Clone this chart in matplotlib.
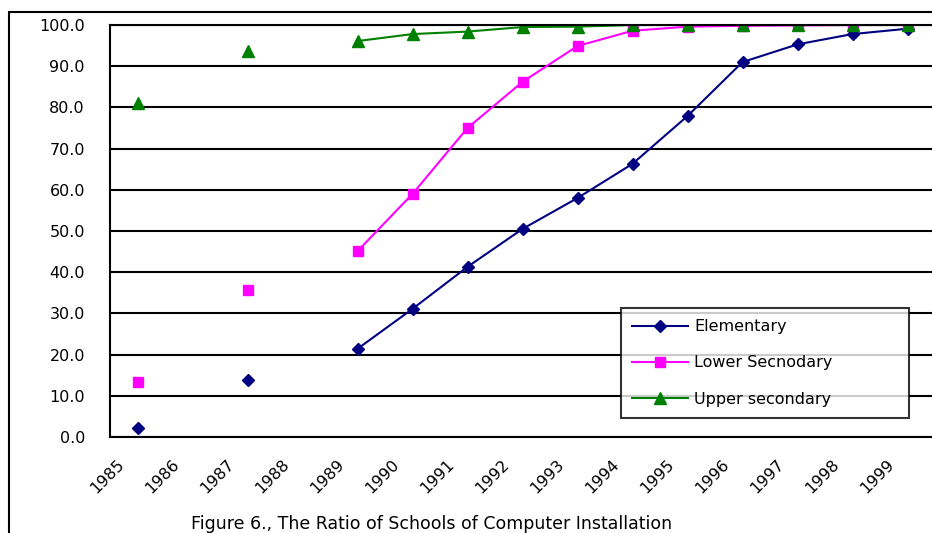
import numpy as np
import matplotlib
matplotlib.use("Agg")
import matplotlib.pyplot as plt
from matplotlib.patches import Rectangle
from matplotlib.transforms import ScaledTranslation

years = ["1985", "1986", "1987", "1988", "1989", "1990", "1991", "1992",
         "1993", "1994", "1995", "1996", "1997", "1998", "1999"]
nan = np.nan
elementary = [2.2, nan, 13.8, nan, 21.4, 31.1, 41.3, 50.5, 58.0, 66.3, 77.9, 91.0, 95.3, 97.8, 99.1]
lower_sec = [13.3, nan, 35.7, nan, 45.1, 59.0, 75.0, 86.2, 94.9, 98.6, 99.6, 99.8, 99.9, 100.0, 100.0]
upper_sec = [81.1, nan, 93.7, nan, 96.1, 97.8, 98.4, 99.5, 99.6, 100.0, 100.0, 100.0, 100.0, 100.0, 100.0]

plt.rcParams['font.family'] = ['DejaVu Sans']

fig = plt.figure(figsize=(9.32, 5.33), dpi=100)
ax = fig.add_axes([110 / 932, 1 - 437 / 533, 825 / 932, 412 / 533])

x = np.arange(len(years))
ax.plot(x, elementary, color='#000080', marker='D', markersize=6, lw=1.5, label='Elementary')
ax.plot(x, lower_sec, color='#FF00FF', marker='s', markersize=7, lw=1.5, label='Lower Secnodary')
ax.plot(x, upper_sec, color='#008000', marker='^', markersize=8.5, lw=1.5, label='Upper secondary')

ax.set_xlim(-0.5, len(years) - 0.5)
ax.set_ylim(0, 100)
ax.set_yticks(np.arange(0, 101, 10))
ax.set_yticklabels([f"{v:.1f}" for v in np.arange(0, 101, 10)], fontsize=11.5)
ax.yaxis.grid(True, color='black', lw=1.5)
ax.set_axisbelow(True)
ax.tick_params(axis='y', length=0, pad=18)

ax.set_xticks(x)
ax.set_xticklabels(years, fontsize=11.5, rotation=45, ha='right', va='top', rotation_mode='anchor')
ax.tick_params(axis='x', length=0, pad=14)
# shift rotated year labels left, like the original
offset = ScaledTranslation(-0.21, 0, fig.dpi_scale_trans)
for lab in ax.get_xticklabels():
    lab.set_transform(lab.get_transform() + offset)

for s in ax.spines.values():
    s.set_linewidth(1.5)
    s.set_color('black')

leg = ax.legend(loc='upper left', bbox_to_anchor=(621 / 932, 1 - 417 / 533, 288 / 932, 109 / 533),
                bbox_transform=fig.transFigure, mode='expand', fontsize=11.5, frameon=True,
                fancybox=False, edgecolor='black', handlelength=3.5,
                labelspacing=1.33, borderpad=0.7, handletextpad=0.4, borderaxespad=0)
leg.get_frame().set_linewidth(1.5)

# outer chart border
fig.patches.append(Rectangle((9 / 932, -0.1), 1.1, 1 - 12 / 533 + 0.1, transform=fig.transFigure,
                             fill=False, lw=1.5, ec='black'))

fig.text(432 / 932, 1 - 524 / 533, "Figure 6., The Ratio of Schools of Computer Installation",
         ha='center', va='center', fontsize=12.5)

fig.savefig("out.png", dpi=100)
